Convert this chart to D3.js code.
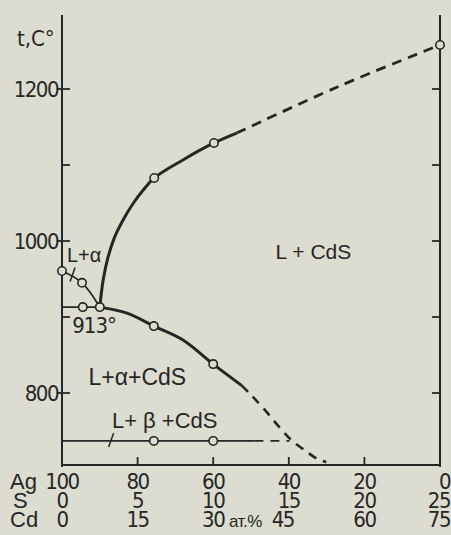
<!DOCTYPE html>
<html>
<head>
<meta charset="utf-8">
<script src="https://cdn.jsdelivr.net/npm/d3@7"></script>
<style>
  body { margin: 0; background: #dcdcd0; }
  svg { display: block; }
</style>
</head>
<body>
<div id="diagram"></div>
<script>
// tick values / labels
var agTicks = [100, 80, 60, 40, 20, 0];
var sLabels = [0, 5, 10, 15, 20, 25];
var cdLabels = [0, 15, 30, 45, 60, 75];
var tTicks = [800, 900, 1000, 1100, 1200];
var tLabels = [800, 1000, 1200];

// curves, [Ag at.%, t C]
var cdsLiquidus = [[90, 913], [89.1, 949], [87.8, 979], [86, 1006], [83.8, 1028], [81.1, 1050],
                   [78.5, 1067], [75.6, 1083], [67.9, 1107], [59.8, 1129], [53.8, 1142]];
var cdsLiquidusDash = [[53.8, 1142], [27, 1203], [0, 1258]];
var agLiquidus = [[100, 960.5], [94.7, 945], [90, 913]];
var eutecticLine = [[100, 913], [90, 913]];
var secondCurve = [[90, 913], [82.8, 905], [75.7, 888], [68.1, 870], [60, 838], [52.5, 810]];
var secondCurveDash = [[52.5, 810], [49.9, 797], [46.4, 778], [42.5, 755], [39.3, 738],
                       [35.9, 725], [32.7, 714], [30.1, 709]];
var lowLine = [[100, 737], [49.1, 737]];
var lowLineDash = [[49.1, 737], [39.8, 737]];

// measured points
var points = [[100, 960.5], [94.7, 945], [94.5, 913], [90, 913], [75.6, 1083], [59.8, 1129], [0, 1258],
              [75.7, 888], [60, 838], [75.7, 737], [60, 737]];
var slashes = [[97.2, 956], [87, 738]];

var regionLabels = [
  {text: "L+α", ag: 98.7, t: 972, size: 20},
  {text: "L + CdS", ag: 43.5, t: 976, size: 21},
  {text: "L+α+CdS", ag: 93, t: 811, size: 23},
  {text: "L+ β +CdS", ag: 86.8, t: 754, size: 22}
];

var width = 451, height = 535;
var ink = "#262626";
var bg = "#dcdcd0";

var svg = d3.select("#diagram")
  .append("svg")
    .attr("width", width)
    .attr("height", height);

svg.append("rect").attr("width", width).attr("height", height).attr("fill", bg);

var x = d3.scaleLinear().domain([100, 0]).range([62, 440]);
var y = d3.scaleLinear().domain([800, 1200]).range([393, 89]);
var yBottom = 465, yTop = 15;

// frame
svg.append("line").attr("x1", x(100)).attr("x2", x(100)).attr("y1", yTop).attr("y2", yBottom + 2)
  .attr("stroke", ink).attr("stroke-width", 2);
svg.append("line").attr("x1", x(0)).attr("x2", x(0)).attr("y1", yTop).attr("y2", yBottom + 2)
  .attr("stroke", ink).attr("stroke-width", 2);
svg.append("line").attr("x1", x(100)).attr("x2", x(0)).attr("y1", yBottom).attr("y2", yBottom)
  .attr("stroke", ink).attr("stroke-width", 2);

// temperature ticks, both sides
tTicks.forEach(function(t) {
  svg.append("line").attr("x1", x(100) - (tLabels.indexOf(t) >= 0 ? 4 : 0)).attr("x2", x(100) + 8)
    .attr("y1", y(t)).attr("y2", y(t)).attr("stroke", ink).attr("stroke-width", 1.8);
  svg.append("line").attr("x1", x(0) - 8).attr("x2", x(0))
    .attr("y1", y(t)).attr("y2", y(t)).attr("stroke", ink).attr("stroke-width", 1.8);
});
agTicks.slice(1, 5).forEach(function(a) {
  svg.append("line").attr("x1", x(a)).attr("x2", x(a)).attr("y1", yBottom).attr("y2", yBottom - 8)
    .attr("stroke", ink).attr("stroke-width", 1.8);
});

var narrow = "DejaVu Sans Condensed, Liberation Sans Narrow, sans-serif";
var regular = "Liberation Sans, Arial, sans-serif";

svg.append("g").selectAll("text")
  .data(tLabels)
  .enter().append("text")
    .attr("x", 58)
    .attr("y", function(d) { return y(d) + 8; })
    .attr("text-anchor", "end")
    .attr("font-family", narrow)
    .attr("font-size", 22)
    .attr("letter-spacing", -1.5)
    .attr("fill", ink)
    .text(function(d) { return d; });

svg.append("text").attr("x", 17).attr("y", 46)
  .attr("font-family", narrow).attr("font-size", 22).attr("fill", ink)
  .text("t,C°");

// composition rows
var rows = [
  {name: "Ag", vals: agTicks, base: 489},
  {name: "S", vals: sLabels, base: 508},
  {name: "Cd", vals: cdLabels, base: 527}
];
rows.forEach(function(r) {
  svg.append("text").attr("x", r.name == "S" ? 13 : 10).attr("y", r.base)
    .attr("font-family", regular).attr("font-size", 22).attr("fill", ink)
    .text(r.name);
  svg.append("g").selectAll("text")
    .data(r.vals)
    .enter().append("text")
      .attr("x", function(d, i) { return x(agTicks[i]); })
      .attr("y", r.base)
      .attr("text-anchor", function(d, i) { return i == 5 ? "end" : "middle"; })
      .attr("dx", function(d, i) { return i == 5 ? 10 : (r.name == "Cd" && i == 3 ? -6 : 0); })
      .attr("font-family", narrow)
      .attr("font-size", 22)
      .attr("letter-spacing", -1.5)
      .attr("fill", ink)
      .text(function(d) { return d; });
});
svg.append("text").attr("x", 229).attr("y", 527)
  .attr("font-family", regular).attr("font-size", 17).attr("letter-spacing", -0.5).attr("fill", ink)
  .text("ат.%");

// curves
var lineX = d3.line()
  .x(function(d) { return x(d[0]); })
  .y(function(d) { return y(d[1]); })
  .curve(d3.curveCatmullRom);

svg.append("path").attr("d", lineX(cdsLiquidus))
  .attr("fill", "none").attr("stroke", ink).attr("stroke-width", 3);
svg.append("path").attr("d", lineX(cdsLiquidusDash))
  .attr("fill", "none").attr("stroke", ink).attr("stroke-width", 2.8).attr("stroke-dasharray", "10,7");
svg.append("path").attr("d", lineX(agLiquidus))
  .attr("fill", "none").attr("stroke", ink).attr("stroke-width", 1.8);
svg.append("path").attr("d", lineX(eutecticLine))
  .attr("fill", "none").attr("stroke", ink).attr("stroke-width", 1.8);
svg.append("path").attr("d", lineX(secondCurve))
  .attr("fill", "none").attr("stroke", ink).attr("stroke-width", 3);
svg.append("path").attr("d", lineX(secondCurveDash))
  .attr("fill", "none").attr("stroke", ink).attr("stroke-width", 2.6).attr("stroke-dasharray", "9,7");
svg.append("path").attr("d", lineX(lowLine))
  .attr("fill", "none").attr("stroke", ink).attr("stroke-width", 1.8);
svg.append("path").attr("d", lineX(lowLineDash))
  .attr("fill", "none").attr("stroke", ink).attr("stroke-width", 1.8).attr("stroke-dasharray", "9,7");

slashes.forEach(function(s) {
  svg.append("line")
    .attr("x1", x(s[0]) - 2.5).attr("y1", y(s[1]) + 7)
    .attr("x2", x(s[0]) + 2.5).attr("y2", y(s[1]) - 7)
    .attr("stroke", ink).attr("stroke-width", 1.5);
});

svg.append("g").selectAll("circle")
  .data(points)
  .enter().append("circle")
    .attr("cx", function(d) { return x(d[0]); })
    .attr("cy", function(d) { return y(d[1]); })
    .attr("r", 4.2)
    .attr("fill", bg)
    .attr("stroke", ink)
    .attr("stroke-width", 1.6);

// phase fields
svg.append("g").selectAll("text")
  .data(regionLabels)
  .enter().append("text")
    .attr("x", function(d) { return x(d.ag); })
    .attr("y", function(d) { return y(d.t); })
    .attr("font-family", regular)
    .attr("font-size", function(d) { return d.size; })
    .attr("fill", ink)
    .text(function(d) { return d.text; });

svg.append("text").attr("x", x(97.3)).attr("y", 333)
  .attr("font-family", narrow).attr("font-size", 22).attr("letter-spacing", -1).attr("fill", ink)
  .text("913°");
</script>
</body>
</html>
